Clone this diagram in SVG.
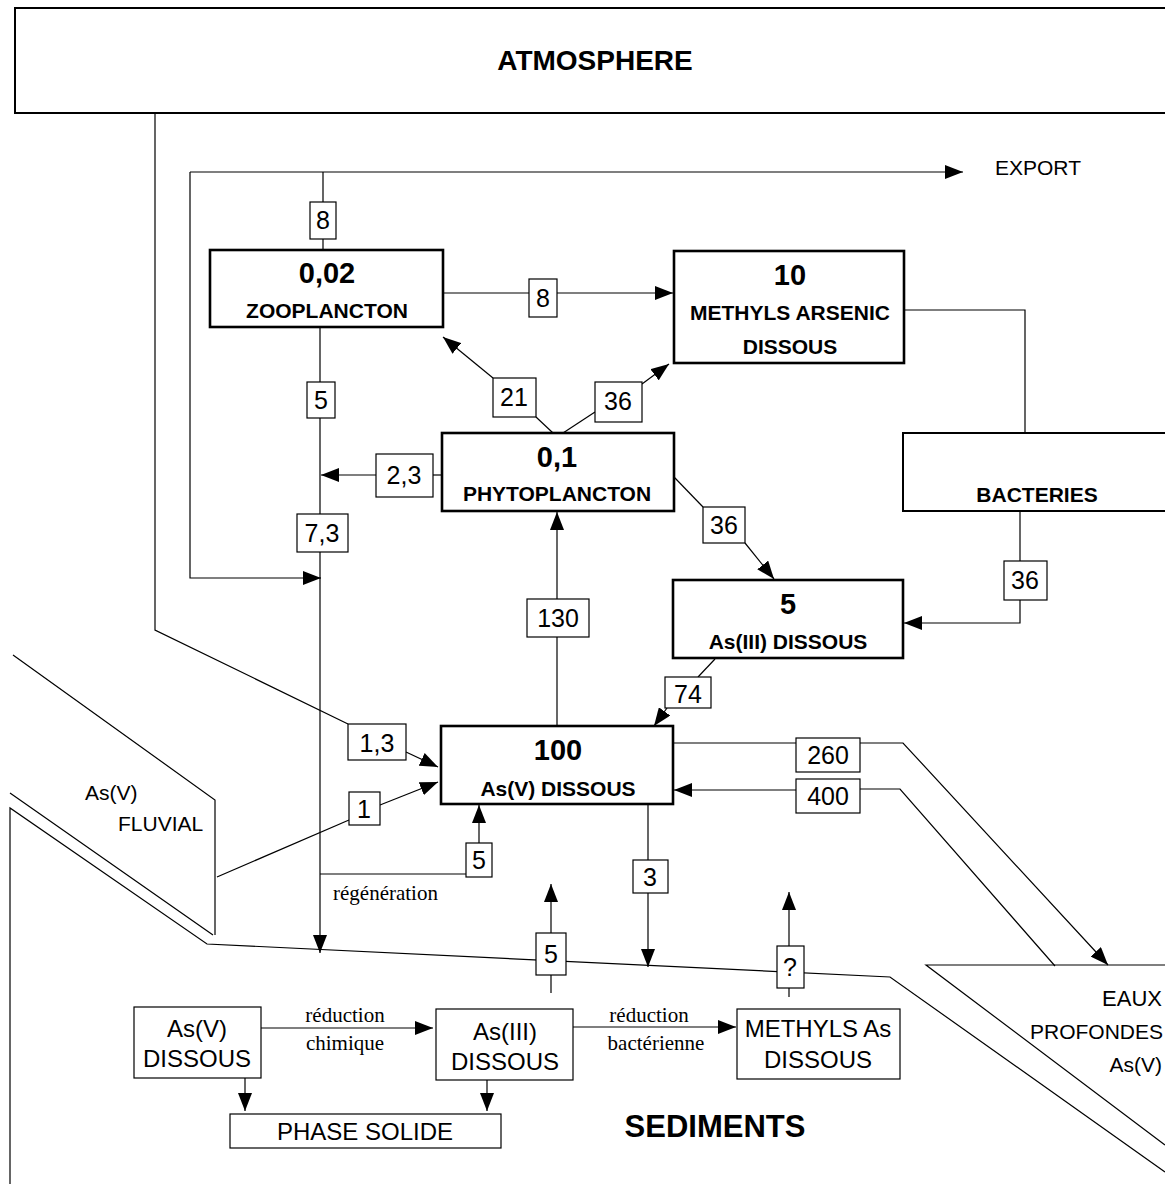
<svg xmlns="http://www.w3.org/2000/svg" width="1165" height="1184" viewBox="0 0 1165 1184">
<defs>
<marker id="ah" markerUnits="userSpaceOnUse" markerWidth="18" markerHeight="14" refX="18" refY="7" orient="auto" viewBox="0 0 18 14">
<path d="M0,0 L18,7 L0,14 z" fill="#000"/>
</marker>
<style>
.ln{fill:none;stroke:#000;stroke-width:1.2}
.ar{fill:none;stroke:#000;stroke-width:1.2;marker-end:url(#ah)}
.nb{fill:#fff;stroke:#000;stroke-width:2.6}
.tb{fill:#fff;stroke:#000;stroke-width:1.2}
.num{font-family:"Liberation Sans",Arial,sans-serif;font-weight:bold;font-size:29px;text-anchor:middle}
.lab{font-family:"Liberation Sans",Arial,sans-serif;font-weight:bold;font-size:21px;text-anchor:middle}
.flx{font-family:"Liberation Sans",Arial,sans-serif;font-size:25px;text-anchor:middle}
.reg{font-family:"Liberation Sans",Arial,sans-serif;font-size:24px;text-anchor:middle}
.sm{font-family:"Liberation Sans",Arial,sans-serif;font-size:21px}
.ser{font-family:"Liberation Serif","Times New Roman",serif;font-size:21px}
</style>
</defs>
<rect width="1165" height="1184" fill="#fff"/>

<g id="atmosphere">
<rect x="15" y="8" width="1170" height="105" fill="#fff" stroke="#000" stroke-width="2"/>
<text x="595" y="70" class="lab" style="font-size:28px">ATMOSPHERE</text>
</g>

<g id="fluvial">
<path class="ln" d="M13,655 L215,800 L215,935 M10,793 L213,935"/>
<text x="85" y="800" class="sm">As(V)</text>
<text x="118" y="831" class="sm">FLUVIAL</text>
</g>

<g id="eaux-profondes">
<path class="ln" d="M1165,965 L926,965 L1165,1145"/>
<text x="1162" y="1006" class="sm" text-anchor="end" style="font-size:22px">EAUX</text>
<text x="1163" y="1039" class="sm" text-anchor="end">PROFONDES</text>
<text x="1162" y="1072" class="sm" text-anchor="end">As(V)</text>
</g>

<g id="sediments">
<path class="ln" d="M10,1184 L10,808 L207,944 L890,977 L1165,1172"/>
<text x="715" y="1137" class="lab" style="font-size:31px">SEDIMENTS</text>
</g>

<g id="zooplancton">
<rect x="210" y="250" width="233" height="77" class="nb"/>
<text x="327" y="283" class="num">0,02</text>
<text x="327" y="318" class="lab">ZOOPLANCTON</text>
</g>

<g id="methyls-arsenic">
<rect x="674" y="251" width="230" height="112" class="nb"/>
<text x="790" y="285" class="num">10</text>
<text x="790" y="320" class="lab">METHYLS ARSENIC</text>
<text x="790" y="354" class="lab">DISSOUS</text>
</g>

<g id="phytoplancton">
<rect x="442" y="433" width="232" height="78" class="nb"/>
<text x="557" y="467" class="num">0,1</text>
<text x="557" y="501" class="lab">PHYTOPLANCTON</text>
</g>

<g id="bacteries">
<rect x="903" y="433" width="280" height="78" fill="#fff" stroke="#000" stroke-width="2"/>
<text x="1037" y="502" class="lab">BACTERIES</text>
</g>

<g id="as3-dissous">
<rect x="673" y="580" width="230" height="78" class="nb"/>
<text x="788" y="614" class="num">5</text>
<text x="788" y="649" class="lab">As(III) DISSOUS</text>
</g>

<g id="as5-dissous">
<rect x="441" y="726" width="232" height="78" class="nb"/>
<text x="558" y="760" class="num">100</text>
<text x="558" y="796" class="lab">As(V) DISSOUS</text>
</g>

<g id="sed-as5">
<rect x="134" y="1007" width="127" height="71" class="tb"/>
<text x="197" y="1037" class="reg">As(V)</text>
<text x="197" y="1067" class="reg">DISSOUS</text>
</g>

<g id="sed-as3">
<rect x="436" y="1009" width="137" height="71" class="tb"/>
<text x="505" y="1040" class="reg">As(III)</text>
<text x="505" y="1070" class="reg">DISSOUS</text>
</g>

<g id="sed-methyls">
<rect x="737" y="1009" width="163" height="70" class="tb"/>
<text x="818" y="1037" class="reg">METHYLS As</text>
<text x="818" y="1068" class="reg">DISSOUS</text>
</g>

<g id="phase-solide">
<rect x="230" y="1114" width="271" height="34" class="tb"/>
<text x="365" y="1140" class="reg">PHASE SOLIDE</text>
</g>

<g id="connectors">
<!-- atmosphere deposition -->
<path class="ln" d="M155,113 L155,630 L348,724"/>
<path class="ar" d="M406,752 L438,767"/>
<!-- fluvial input -->
<path class="ln" d="M217,877 L349,820"/>
<path class="ar" d="M380,805 L438,782"/>
<!-- export loop -->
<path class="ar" d="M190,172 L963,172"/>
<path class="ar" d="M190,172 L190,578 L321,578"/>
<path class="ln" d="M323,172 L323,202 M323,239 L323,250"/>
<!-- zoo to methyls -->
<path class="ln" d="M443,293 L529,293"/>
<path class="ar" d="M557,293 L673,293"/>
<!-- zoo excretion column -->
<path class="ln" d="M320,327 L320,382 M320,418 L320,514"/>
<path class="ar" d="M320,552 L320,953"/>
<path class="ln" d="M320,874 L466,874"/>
<path class="ar" d="M479,843 L479,805"/>
<!-- phyto to zoo -->
<path class="ln" d="M553,433 L536,417"/>
<path class="ar" d="M493,378 L443,337"/>
<!-- phyto to methyls -->
<path class="ln" d="M563,433 L595,412"/>
<path class="ar" d="M642,384 L669,364"/>
<!-- phyto to zoo column -->
<path class="ln" d="M442,475 L433,475"/>
<path class="ar" d="M376,475 L321,475"/>
<!-- phyto to As(III) -->
<path class="ln" d="M674,477 L703,507"/>
<path class="ar" d="M745,543 L774,579"/>
<!-- As(V) to phyto -->
<path class="ln" d="M557,726 L557,637"/>
<path class="ar" d="M557,599 L557,512"/>
<!-- As(III) to As(V) -->
<path class="ln" d="M715,659 L698,677"/>
<path class="ar" d="M667,708 L654,726"/>
<!-- methyls to bacteries -->
<path class="ln" d="M904,310 L1025,310 L1025,433"/>
<!-- bacteries to As(III) -->
<path class="ln" d="M1020,511 L1020,561"/>
<path class="ar" d="M1020,600 L1020,623 L904,623"/>
<!-- exchange with deep waters -->
<path class="ln" d="M673,743 L796,743"/>
<path class="ar" d="M860,743 L903,743 L1108,965"/>
<path class="ln" d="M1055,966 L900,789 L860,789"/>
<path class="ar" d="M796,790 L674,790"/>
<!-- sedimentation -->
<path class="ln" d="M648,804 L648,860"/>
<path class="ar" d="M648,893 L648,967"/>
<path class="ln" d="M551,993 L551,975"/>
<path class="ar" d="M551,933 L551,884"/>
<path class="ln" d="M789,997 L789,988"/>
<path class="ar" d="M789,946 L789,892"/>
<!-- sediment processes -->
<path class="ar" d="M261,1028 L433,1028"/>
<path class="ar" d="M573,1027 L736,1027"/>
<path class="ar" d="M245,1078 L245,1111"/>
<path class="ar" d="M487,1080 L487,1111"/>
<text x="345" y="1022" class="ser" text-anchor="middle">réduction</text>
<text x="345" y="1050" class="ser" text-anchor="middle">chimique</text>
<text x="649" y="1022" class="ser" text-anchor="middle">réduction</text>
<text x="656" y="1050" class="ser" text-anchor="middle">bactérienne</text>
<text x="333" y="900" class="ser">régénération</text>
<text x="995" y="175" class="sm">EXPORT</text>

<!-- flux labels -->
<g id="f-8a"><rect x="310" y="202" width="26" height="37" class="tb"/><text x="323" y="229" class="flx">8</text></g>
<g id="f-8b"><rect x="529" y="279" width="28" height="38" class="tb"/><text x="543" y="307" class="flx">8</text></g>
<g id="f-5a"><rect x="307" y="382" width="28" height="36" class="tb"/><text x="321" y="409" class="flx">5</text></g>
<g id="f-21"><rect x="493" y="378" width="43" height="39" class="tb"/><text x="514" y="406" class="flx">21</text></g>
<g id="f-36a"><rect x="595" y="382" width="47" height="40" class="tb"/><text x="618" y="410" class="flx">36</text></g>
<g id="f-2-3"><rect x="376" y="454" width="57" height="43" class="tb"/><text x="404" y="484" class="flx">2,3</text></g>
<g id="f-7-3"><rect x="297" y="514" width="51" height="38" class="tb"/><text x="322" y="542" class="flx">7,3</text></g>
<g id="f-36b"><rect x="703" y="507" width="42" height="36" class="tb"/><text x="724" y="534" class="flx">36</text></g>
<g id="f-36c"><rect x="1004" y="561" width="43" height="39" class="tb"/><text x="1025" y="589" class="flx">36</text></g>
<g id="f-130"><rect x="527" y="599" width="62" height="38" class="tb"/><text x="558" y="627" class="flx">130</text></g>
<g id="f-74"><rect x="665" y="677" width="46" height="31" class="tb"/><text x="688" y="703" class="flx">74</text></g>
<g id="f-1-3"><rect x="348" y="724" width="58" height="36" class="tb"/><text x="377" y="752" class="flx">1,3</text></g>
<g id="f-260"><rect x="796" y="738" width="64" height="34" class="tb"/><text x="828" y="764" class="flx">260</text></g>
<g id="f-400"><rect x="796" y="779" width="64" height="34" class="tb"/><text x="828" y="805" class="flx">400</text></g>
<g id="f-1"><rect x="349" y="792" width="31" height="33" class="tb"/><text x="364" y="818" class="flx">1</text></g>
<g id="f-5b"><rect x="466" y="843" width="26" height="34" class="tb"/><text x="479" y="869" class="flx">5</text></g>
<g id="f-3"><rect x="633" y="860" width="35" height="33" class="tb"/><text x="650" y="886" class="flx">3</text></g>
<g id="f-5c"><rect x="536" y="933" width="30" height="42" class="tb"/><text x="551" y="963" class="flx">5</text></g>
<g id="f-q"><rect x="777" y="946" width="27" height="42" class="tb"/><text x="790" y="976" class="flx">?</text></g>
</g>
</svg>
